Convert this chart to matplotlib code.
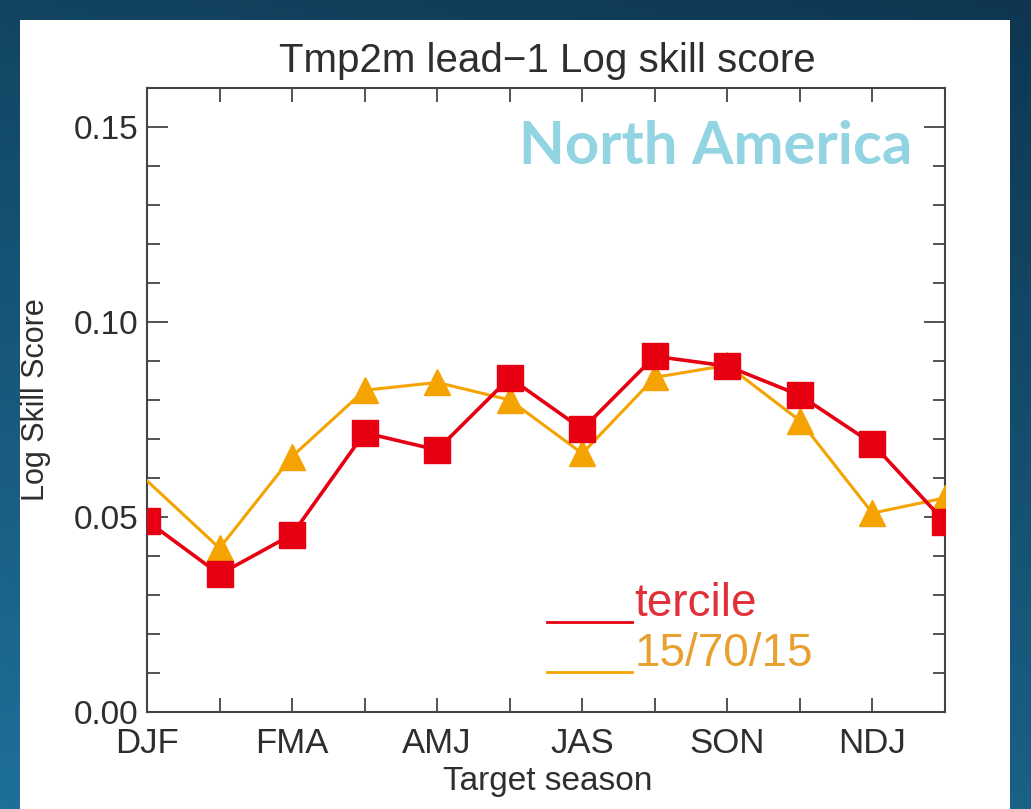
import numpy as np
import matplotlib
matplotlib.use("Agg")
import matplotlib.pyplot as plt
from matplotlib.patches import Rectangle
from matplotlib.ticker import MultipleLocator, FixedLocator

# Target seasons (3-month running windows)
seasons = ["DJF", "JFM", "FMA", "MAM", "AMJ", "MJJ",
           "JJA", "JAS", "ASO", "SON", "OND", "NDJ"]
tercile = [0.049, 0.0353, 0.0455, 0.0716, 0.0672, 0.0857,
           0.0725, 0.0912, 0.0887, 0.0812, 0.0688, 0.0487]
p15_70_15 = [0.0593, 0.0420, 0.0655, 0.0825, 0.0845, 0.0800,
             0.0663, 0.0858, 0.0889, 0.0747, 0.0510, 0.0549]
xtick_labels = ["DJF", "FMA", "AMJ", "JAS", "SON", "NDJ"]
ytick_labels = ["0.00", "0.05", "0.10", "0.15"]

plt.rcParams["font.family"] = ["Liberation Sans", "DejaVu Sans"]

W, H = 1031, 809
fig = plt.figure(figsize=(W / 100, H / 100), dpi=100)

def fx(px):
    return px / W

def fy(py):
    return 1 - py / H

# slide background: dark navy to blue gradient with a white panel
bg = fig.add_axes([0, 0, 1, 1])
yy, xx = np.mgrid[0:1:200j, 0:1:200j]
t = np.clip(0.75 * yy + 0.25 * (1 - xx), 0, 1)
top = np.array([14, 54, 80]) / 255
bot = np.array([30, 112, 152]) / 255
img = top[None, None, :] * (1 - t[..., None]) + bot[None, None, :] * t[..., None]
bg.imshow(img, extent=[0, 1, 0, 1], aspect="auto", origin="upper")
bg.add_patch(Rectangle((fx(20), 0), fx(1010 - 20), 1 - fy(20) * 0 - 20 / H,
                       facecolor="white", edgecolor="none"))
bg.set_xlim(0, 1)
bg.set_ylim(0, 1)
bg.axis("off")

ax = fig.add_axes([fx(147), fy(712), fx(945 - 147), (712 - 88) / H])
ax.set_facecolor("none")
x = np.arange(len(seasons))

red = "#E60012"
orange = "#F5A300"
ax.plot(x, p15_70_15, color=orange, lw=2.2, marker="^", ms=19,
        markevery=list(range(1, len(x))), zorder=3)
ax.plot(x, tercile, color=red, lw=2.6, marker="s", ms=19, zorder=4)

ax.set_xlim(0, len(seasons) - 1)
ax.set_ylim(0, 0.16)
ax.xaxis.set_major_locator(FixedLocator(np.arange(0, 2 * len(xtick_labels), 2)))
ax.set_xticklabels(xtick_labels)
ax.xaxis.set_minor_locator(MultipleLocator(1))
ax.yaxis.set_major_locator(FixedLocator([float(v) for v in ytick_labels]))
ax.set_yticklabels(ytick_labels)
ax.yaxis.set_minor_locator(MultipleLocator(0.01))

txt = "#2E2E2E"
ax.tick_params(axis="both", which="both", direction="in", top=True, right=True,
               colors="#444444", width=1.3, labelcolor=txt)
ax.tick_params(axis="x", which="both", length=10, pad=11, labelsize=25)
ax.tick_params(axis="y", which="major", length=15, pad=6, labelsize=24)
ax.tick_params(axis="y", which="minor", length=9)
for sp in ax.spines.values():
    sp.set_color("#444444")
    sp.set_linewidth(1.5)

fig.text(fx(547), fy(72), "Tmp2m lead\u22121 Log skill score", fontsize=29,
         color=txt, ha="center", va="baseline")
fig.text(fx(548), fy(790), "Target season", fontsize=24, color=txt,
         ha="center", va="baseline")
fig.text(fx(36), fy(400), "Log Skill Score", rotation=90, fontsize=22,
         color=txt, ha="center", va="center")

# legend drawn as line + label pairs
legend_items = [("tercile", red, "#E0303A", 616), ("15/70/15", orange, "#E8A030", 666)]
for label, lc, tc, base in legend_items:
    fig.add_artist(plt.Line2D([fx(547), fx(632)], [fy(base + 6), fy(base + 6)],
                              color=lc, lw=2.0))
    fig.text(fx(634), fy(base), label, color=tc, fontsize=33,
             ha="left", va="baseline")

fig.text(fx(716), fy(147), "North America", color="#93D4E3", fontsize=43,
         fontweight="bold", family=["Lato", "DejaVu Sans"], ha="center", va="center")

fig.savefig("out.png", dpi=100)
